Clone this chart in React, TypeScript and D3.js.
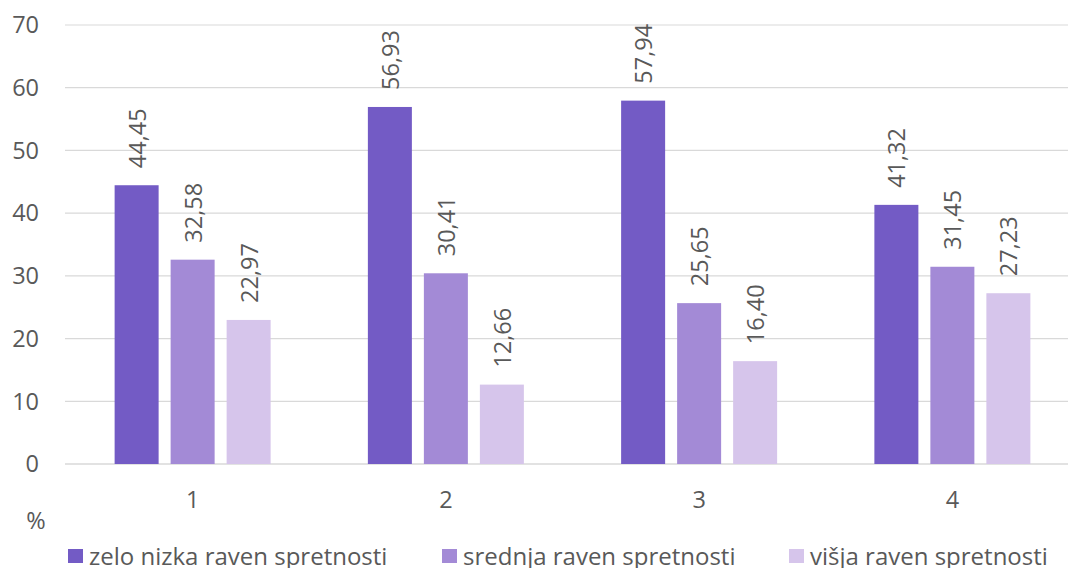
import React from "react";
import * as d3 from "d3";

const categories = ["1", "2", "3", "4"];
const seriesNames = ["zelo nizka raven spretnosti", "srednja raven spretnosti", "višja raven spretnosti"];
const seriesVeryLow = [44.45, 56.93, 57.94, 41.32];
const seriesMid = [32.58, 30.41, 25.65, 31.45];
const seriesHigh = [22.97, 12.66, 16.4, 27.23];
const yTicks = [0, 10, 20, 30, 40, 50, 60, 70];
const colors = ["#735BC5", "#A38AD6", "#D6C5EB"];

const W = 1068;
const H = 568;
const FONT = "'Open Sans', sans-serif";
const TXT = "#595959";
const FS = 23.5;

export default function App() {
  const series = [seriesVeryLow, seriesMid, seriesHigh];
  const y = d3.scaleLinear().domain([0, 70]).range([464, 25]);
  const x = d3.scaleBand<string>().domain(categories).range([66, 1079]).paddingInner(0).paddingOuter(0);
  const inner = d3.scaleBand<number>().domain([0, 1, 2]).range([0, 156]).paddingInner(12 / 56);
  const fmt = (v: number) => v.toFixed(2).replace(".", ",");
  const legendX = [68, 442, 789];

  return (
    <svg width={W} height={H} style={{ position: "absolute", left: 0, top: 0, background: "#fff" }}>
      {yTicks.map((t) => (
        <g key={t}>
          <line x1={65} x2={W} y1={y(t)} y2={y(t)} stroke="#D9D9D9" strokeWidth={t === 0 ? 1.5 : 1.2} />
          <text x={39} y={y(t)} dy="0.35em" textAnchor="end" fontFamily={FONT} fontSize={FS} fill={TXT}>
            {t}
          </text>
        </g>
      ))}
      {categories.map((c, ci) => {
        const gx = (x(c) as number) + x.bandwidth() / 2 - 78;
        return (
          <g key={c}>
            {series.map((s, si) => {
              const bx = gx + (inner(si) as number);
              const bw = inner.bandwidth();
              const top = y(s[ci]);
              return (
                <g key={si}>
                  <rect x={bx} y={top} width={bw} height={y(0) - top} fill={colors[si]} />
                  <text
                    transform={`translate(${bx + bw / 2 + 9},${top - 17}) rotate(-90)`}
                    fontFamily={FONT}
                    fontSize={FS}
                    fill={TXT}
                  >
                    {fmt(s[ci])}
                  </text>
                </g>
              );
            })}
            <text x={(x(c) as number) + x.bandwidth() / 2} y={508} textAnchor="middle" fontFamily={FONT} fontSize={FS} fill={TXT}>
              {c}
            </text>
          </g>
        );
      })}
      <text x={36} y={529} textAnchor="middle" fontFamily={FONT} fontSize={FS} fill={TXT}>
        %
      </text>
      {seriesNames.map((n, i) => (
        <g key={n}>
          <rect x={legendX[i]} y={549} width={15} height={14} fill={colors[i]} />
          <text x={legendX[i] + 21} y={565} fontFamily={FONT} fontSize={24} fill={TXT}>
            {n}
          </text>
        </g>
      ))}
    </svg>
  );
}
